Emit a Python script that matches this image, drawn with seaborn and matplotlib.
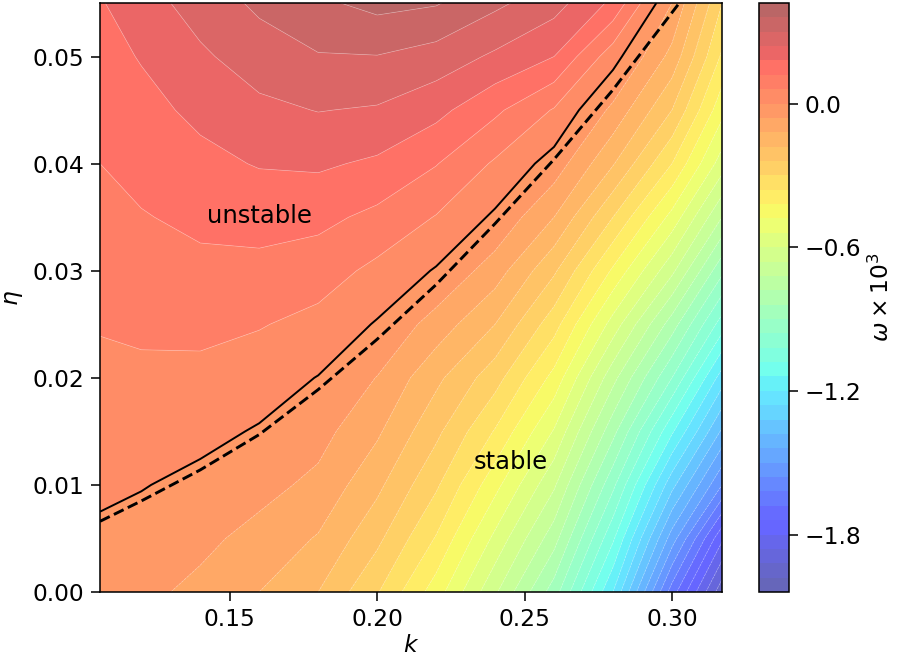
import numpy as np
import matplotlib
matplotlib.use("Agg")
import matplotlib.pyplot as plt
import seaborn as sns

# wavenumber k (columns) and eta (rows) of the growth-rate map
k_vals = [0.106, 0.12, 0.14, 0.16, 0.18, 0.20, 0.22, 0.24, 0.26, 0.28, 0.30, 0.317]
eta_vals = [0.0, 0.005, 0.010, 0.015, 0.020, 0.025, 0.030, 0.035, 0.040, 0.045, 0.050, 0.055]

# omega x 10^3, one row per eta value
omega = [
    [-0.030, -0.045, -0.075, -0.120, -0.180, -0.295, -0.450, -0.650, -0.870, -1.200, -1.650, -1.960],
    [-0.010, -0.022, -0.045, -0.080, -0.125, -0.225, -0.365, -0.555, -0.755, -1.070, -1.470, -1.790],
    [0.010, 0.003, -0.015, -0.040, -0.075, -0.165, -0.290, -0.460, -0.650, -0.945, -1.300, -1.560],
    [0.028, 0.027, 0.016, -0.005, -0.038, -0.110, -0.225, -0.365, -0.545, -0.820, -1.130, -1.390],
    [0.046, 0.049, 0.045, 0.028, -0.002, -0.062, -0.165, -0.275, -0.440, -0.700, -0.960, -1.230],
    [0.064, 0.070, 0.075, 0.064, 0.042, -0.005, -0.085, -0.180, -0.335, -0.565, -0.810, -1.050],
    [0.083, 0.092, 0.105, 0.104, 0.088, 0.045, -0.005, -0.090, -0.230, -0.430, -0.645, -0.885],
    [0.101, 0.116, 0.134, 0.142, 0.136, 0.105, 0.057, -0.010, -0.120, -0.300, -0.500, -0.720],
    [0.120, 0.140, 0.164, 0.184, 0.189, 0.170, 0.123, 0.052, -0.025, -0.175, -0.360, -0.570],
    [0.138, 0.161, 0.194, 0.226, 0.242, 0.234, 0.198, 0.132, 0.055, -0.075, -0.240, -0.460],
    [0.157, 0.184, 0.230, 0.270, 0.296, 0.298, 0.275, 0.230, 0.180, 0.025, -0.140, -0.370],
    [0.175, 0.214, 0.266, 0.312, 0.349, 0.378, 0.365, 0.313, 0.264, 0.167, -0.060, -0.300],
]

# approximate marginal-stability curve (dashed)
k_dash = [0.106, 0.12, 0.14, 0.16, 0.18, 0.20, 0.22, 0.24, 0.26, 0.28, 0.30, 0.3025]
eta_dash = [0.0066, 0.0085, 0.0114, 0.0147, 0.0189, 0.0236, 0.0287, 0.0344, 0.0404, 0.0469, 0.0541, 0.0550]

cbar_ticks = [-1.8, -1.2, -0.6, 0.0]

sns.set_style("ticks", rc={"text.color": "black", "axes.labelcolor": "black",
                           "xtick.color": "black", "ytick.color": "black",
                           "axes.edgecolor": "black"})
plt.rcParams["font.family"] = ["DejaVu Sans"]
plt.rcParams["font.size"] = 12

fig = plt.figure(figsize=(898 / 140, 661 / 140), dpi=140)
ax = fig.add_axes([0.1114, 0.1044, 0.6927, 0.8911])
cax = fig.add_axes([0.845, 0.1044, 0.0334, 0.8911])

K, E = np.meshgrid(k_vals, eta_vals)
Z = np.array(omega)
levels = np.linspace(-2.04, 0.42, 42)
cmap = matplotlib.colormaps["jet"]

cf = ax.contourf(K, E, Z, levels=levels, cmap=cmap, alpha=0.6, antialiased=True)
# faint light seams between the filled bands
ax.contour(K, E, Z, levels=levels, colors="white", linewidths=0.35, alpha=0.35)
ax.contour(K, E, Z, levels=[0.0], colors="k", linewidths=1.0)
sns.lineplot(x=k_dash, y=eta_dash, ax=ax, color="k", lw=1.5, linestyle="--",
             sort=False, estimator=None)

ax.text(0.1602, 0.0351, "unstable", ha="center", va="center", fontsize=12.5)
ax.text(0.2452, 0.0121, "stable", ha="center", va="center", fontsize=12.5)

ax.set_xlim(k_vals[0], k_vals[-1])
ax.set_ylim(eta_vals[0], eta_vals[-1])
ax.set_xticks([0.15, 0.20, 0.25, 0.30])
ax.set_yticks([0.0, 0.01, 0.02, 0.03, 0.04, 0.05])
ax.set_xlabel(r"$k$", fontsize=12, labelpad=2)
ax.set_ylabel(r"$\eta$", fontsize=12, labelpad=4)
ax.tick_params(labelsize=12, direction="out", length=4.5, width=0.8)

cb = fig.colorbar(cf, cax=cax)
cb.set_ticks(cbar_ticks)
cb.set_label(r"$\omega \times 10^3$", fontsize=12)
cb.ax.tick_params(labelsize=12, direction="out", length=4.5, width=0.8)
cb.outline.set_edgecolor("black")

fig.savefig("out.png", dpi=140)
